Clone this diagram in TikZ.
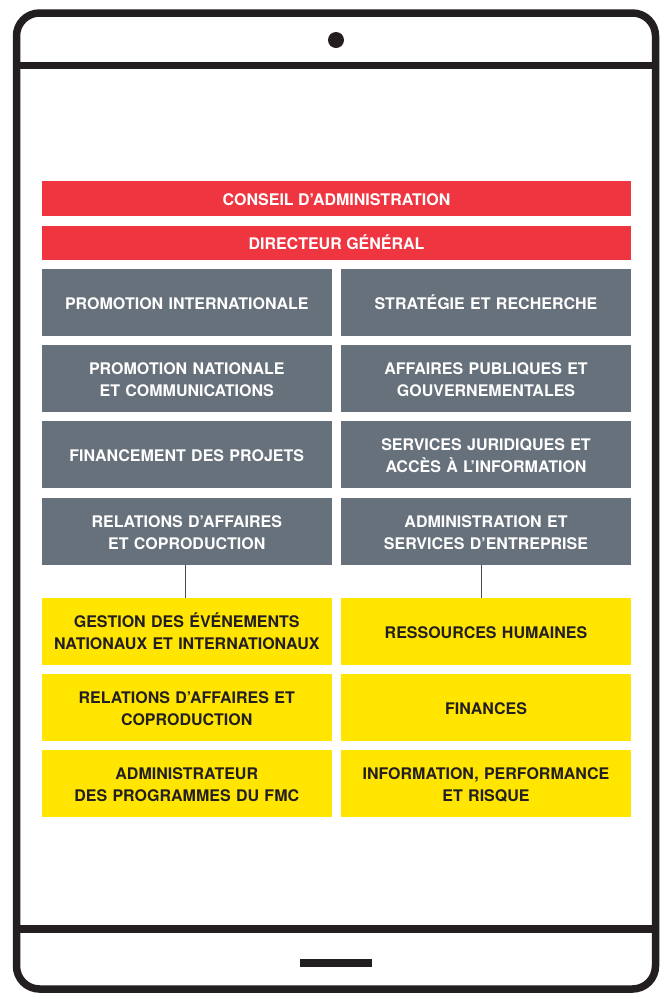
\documentclass[tikz,border=0pt]{standalone}
\usepackage{fontspec}
\setmainfont{TeX Gyre Heros}
\usepackage{tikz}
\definecolor{orgred}{HTML}{EE3540}
\definecolor{orggrey}{HTML}{67717C}
\definecolor{orgyellow}{HTML}{FFE500}
\definecolor{orgdark}{HTML}{231F20}
% strut so that accented capitals do not move a line
\newcommand{\capstrut}{\rule[-1.5pt]{0pt}{17pt}}

\begin{document}
\begin{tikzpicture}[x=1pt,y=-1pt]
	\tikzset{orgbox/.style={inner sep=0pt, minimum height=66.5pt, text width=\boxwidth pt, align=center,
			font=\fontsize{16}{22}\selectfont\bfseries,
			execute at begin node=\capstrut, execute at end node=\capstrut},
		redbar/.style={fill=orgred, text=white, inner sep=0pt, minimum height=34.5pt, minimum width=589pt,
			font=\fontsize{16}{22}\selectfont\bfseries,
			execute at begin node=\capstrut},
		greybox/.style={orgbox, fill=orggrey, text=white},
		yellowbox/.style={orgbox, fill=orgyellow, text=orgdark},
		link/.style={draw=orgdark!80, line width=0.9pt}}
	
	% Width of a box and the two column centres
	\def\boxwidth{289.5}
	\def\colL{186.75}
	\def\colR{486}
	
	\useasboundingbox (0,0) rectangle (661,994);
	
	% Tablet frame
	\draw[orgdark, line width=7.5pt, rounded corners=23pt] (16.5,13) rectangle (655.5,989);
	\draw[orgdark, line width=7.5pt] (16.5,65.5) -- (655.5,65.5);
	\draw[orgdark, line width=7.5pt] (16.5,929) -- (655.5,929);
	\fill[orgdark] (336,40) circle (8pt);
	\fill[orgdark] (300,958.5) rectangle (372,966.5);
	
	% Board and director
	\node[redbar] (conseil) at (336.5,198.5) {CONSEIL D’ADMINISTRATION};
	\node[redbar] (dg) at (336.5,242.75) {DIRECTEUR GÉNÉRAL};
	
	% Grey boxes, left column
	\node[greybox] (promint) at (\colL,302.25) {PROMOTION INTERNATIONALE};
	\node[greybox] (promnat) at (\colL,378.25) {PROMOTION NATIONALE\\ET COMMUNICATIONS};
	\node[greybox] (finproj) at (\colL,454.25) {FINANCEMENT DES PROJETS};
	\node[greybox] (relaff) at (\colL,531.25) {RELATIONS D’AFFAIRES\\ET COPRODUCTION};
	
	% Grey boxes, right column
	\node[greybox] (strat) at (\colR,302.25) {STRATÉGIE ET RECHERCHE};
	\node[greybox] (affpub) at (\colR,378.25) {AFFAIRES PUBLIQUES ET\\GOUVERNEMENTALES};
	\node[greybox] (jurid) at (\colR,454.25) {SERVICES JURIDIQUES ET\\ACCÈS À L’INFORMATION};
	\node[greybox] (admin) at (\colR,531.25) {ADMINISTRATION ET\\SERVICES D’ENTREPRISE};
	
	% Yellow boxes, left column
	\node[yellowbox] (evenements) at (\colL,631.25) {GESTION DES ÉVÉNEMENTS\\NATIONAUX ET INTERNATIONAUX};
	\node[yellowbox] (relcopro) at (\colL,707.25) {RELATIONS D’AFFAIRES ET\\COPRODUCTION};
	\node[yellowbox] (fmc) at (\colL,783.25) {ADMINISTRATEUR\\DES PROGRAMMES DU FMC};
	
	% Yellow boxes, right column
	\node[yellowbox] (rh) at (\colR,631.25) {RESSOURCES HUMAINES};
	\node[yellowbox] (finances) at (\colR,707.25) {FINANCES};
	\node[yellowbox] (risque) at (\colR,783.25) {INFORMATION, PERFORMANCE\\ET RISQUE};
	
	% Links down to the yellow boxes
	\draw[link] ([xshift=-1.5pt]relaff.south) -- ([xshift=-1.5pt]evenements.north);
	\draw[link] ([xshift=-5pt]admin.south) -- ([xshift=-5pt]rh.north);
	
\end{tikzpicture}
\end{document}
